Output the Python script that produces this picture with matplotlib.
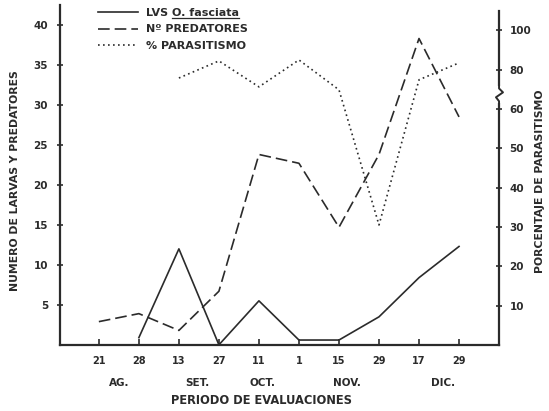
"""Larvas de O. fasciata, predatores y % parasitismo por fecha de evaluacion."""
import numpy as np
import matplotlib
matplotlib.use("Agg")
import matplotlib.pyplot as plt
from matplotlib.lines import Line2D

# --- data -----------------------------------------------------------------
fechas = ["21", "28", "13", "27", "11", "1", "15", "29", "17", "29"]
meses = ["AG.", "SET.", "OCT.", "NOV.", "DIC."]
meses_pos = [0.5, 2.45, 4.1, 6.2, 8.6]

larvas = [np.nan, 0.9, 12.0, 0.0, 5.5, 0.6, 0.6, 3.5, 8.4, 12.3]
predatores = [2.9, 3.9, 1.8, 6.7, 23.8, 22.7, 14.7, 23.8, 38.3, 28.5]
parasitismo = [np.nan, np.nan, 75.8, 84.5, 71.3, 85.0, 69.8, 30.5, 74.9, 83.5]

left_ticks = [5, 10, 15, 20, 25, 30, 35, 40]
right_ticks = [10, 20, 30, 40, 50, 60, 80, 100]

INK = "#2b2b2b"
plt.rcParams["font.family"] = "DejaVu Sans"
plt.rcParams["font.weight"] = "bold"

# right axis is broken at 60: above it every unit takes half the space
BREAK = 60.0


def fwd(v):
    v = np.asarray(v, dtype=float)
    return np.where(v <= BREAK, v, BREAK + (v - BREAK) / 2.0)


def inv(u):
    u = np.asarray(u, dtype=float)
    return np.where(u <= BREAK, u, BREAK + (u - BREAK) * 2.0)


fig = plt.figure(figsize=(5.49, 4.11), dpi=100)
ax = fig.add_axes([0.109, 0.161, 0.800, 0.827])
x = np.arange(len(fechas))

ax.plot(x, larvas, color=INK, lw=1.2, label="LVS O. fasciata")
ax.plot(x, predatores, color=INK, lw=1.2, dashes=(7, 3), label="Nº PREDATORES")
ax.plot([], [], color=INK, lw=1.2, ls=(0, (1, 2)), label="% PARASITISMO")

ax.set_xlim(-0.975, 10)
ax.set_ylim(0, 42.5)
ax.set_xticks(x)
ax.set_xticklabels(fechas)
ax.set_yticks(left_ticks)
ax.tick_params(axis="x", direction="in", length=4, width=1.2, colors=INK,
               labelsize=7, pad=8)
ax.tick_params(axis="y", direction="inout", length=5, width=1.2, colors=INK,
               labelsize=7.5, pad=6)
for s in ("top", "right"):
    ax.spines[s].set_visible(False)
for s in ("left", "bottom"):
    ax.spines[s].set_linewidth(1.6)
    ax.spines[s].set_color(INK)

ax2 = ax.twinx()
ax2.set_yscale("function", functions=(fwd, inv))
ax2.plot(x, parasitismo, color=INK, lw=1.2, ls=(0, (1, 2)))
ax2.set_ylim(0, 113)
ax2.set_yticks(right_ticks)
ax2.set_yticklabels([str(t) for t in right_ticks])
ax2.yaxis.set_minor_locator(matplotlib.ticker.NullLocator())
ax2.tick_params(axis="y", direction="inout", length=5, width=1.2, colors=INK,
                labelsize=7.5, pad=5)
for s in ("top", "left", "bottom"):
    ax2.spines[s].set_visible(False)
ax2.spines["right"].set_linewidth(1.6)
ax2.spines["right"].set_color(INK)
ax2.spines["right"].set_bounds(0, 110)

# squiggle break mark on the right spine
ytr = ax2.get_yaxis_transform()
ax2.add_line(Line2D([1.0, 1.0], [64.0, 70.5], transform=ytr, color="white",
                    lw=3, clip_on=False, zorder=4))
ax2.add_line(Line2D([1.0, 1.0, 1.009, 0.993, 1.0, 1.0],
                    [72.0, 70.5, 68.5, 66.0, 64.0, 63.0], transform=ytr,
                    color=INK, lw=1.4, clip_on=False, zorder=5))

# month row and axis labels
for m, p in zip(meses, meses_pos):
    ax.text(p, -0.112, m, transform=ax.get_xaxis_transform(), ha="center",
            va="center", fontsize=7.5, color=INK)
ax.text(0.46, -0.165, "PERIODO DE EVALUACIONES", transform=ax.transAxes,
        ha="center", va="center", fontsize=8.3, color=INK)
fig.text(0.027, 0.56, "NUMERO DE LARVAS Y PREDATORES", rotation=90,
         ha="center", va="center", fontsize=7.8, color=INK)
fig.text(0.983, 0.56, "PORCENTAJE DE PARASITISMO", rotation=90,
         ha="center", va="center", fontsize=7.8, color=INK)

leg = ax.legend(loc="upper left", bbox_to_anchor=(0.087, 0.99), frameon=False,
                fontsize=8, handlelength=3.6, handletextpad=0.7,
                labelspacing=0.55, borderpad=0, borderaxespad=0)
for t in leg.get_texts():
    t.set_color(INK)

# underline "O. fasciata" in the legend
fig.canvas.draw()
renderer = fig.canvas.get_renderer()
t0 = leg.get_texts()[0]
bb = t0.get_window_extent(renderer)
w_lvs, _, _ = renderer.get_text_width_height_descent(
    "LVS ", t0.get_fontproperties(), ismath=False)
W, H = fig.bbox.width, fig.bbox.height
fig.add_artist(Line2D([(bb.x0 + w_lvs) / W, bb.x1 / W],
                      [(bb.y0 + 0.5) / H, (bb.y0 + 0.5) / H],
                      transform=fig.transFigure, color=INK, lw=0.9))

fig.savefig("out.png", dpi=100)
